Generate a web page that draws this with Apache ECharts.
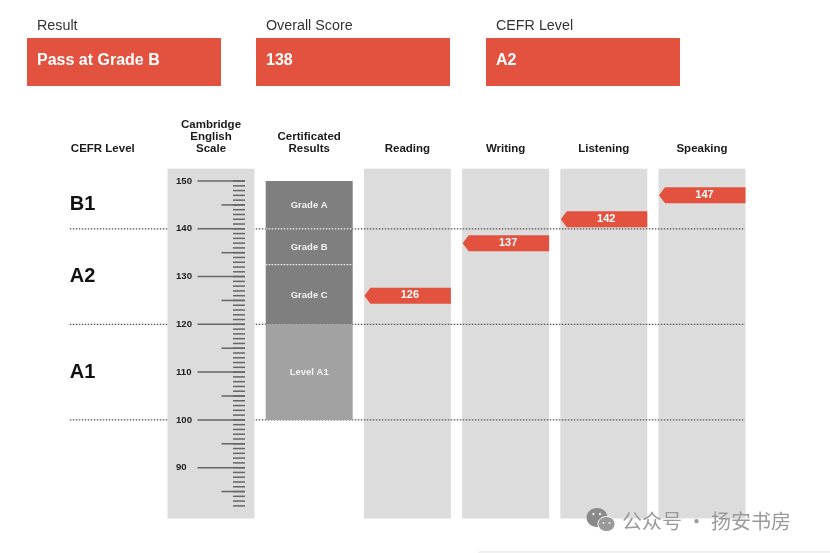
<!DOCTYPE html>
<html>
<head>
<meta charset="utf-8">
<style>html,body{margin:0;padding:0;background:#fff}#chart{width:830px;height:553px}</style>
<script src="https://cdn.jsdelivr.net/npm/echarts@6/dist/echarts.min.js"></script>
</head>
<body>
<div id="chart"></div>
<script>
// Summary boxes
const summaryLabels = ['Result', 'Overall Score', 'CEFR Level'];
const summaryValues = ['Pass at Grade B', '138', 'A2'];

// Column headings
const columns = ['CEFR Level', 'Cambridge\nEnglish\nScale', 'Certificated\nResults', 'Reading', 'Writing', 'Listening', 'Speaking'];

// Cambridge English Scale
const scaleLabels = [90, 100, 110, 120, 130, 140, 150];
const majorTicks = [90, 100, 110, 120, 130, 140, 150];
const midTicks = [85, 95, 105, 115, 125, 135, 145];
const minorTicks = [82, 83, 84, 85, 86, 87, 88, 89, 90, 91, 92, 93, 94, 95, 96, 97, 98, 99, 100,
  101, 102, 103, 104, 105, 106, 107, 108, 109, 110, 111, 112, 113, 114, 115, 116, 117, 118, 119, 120,
  121, 122, 123, 124, 125, 126, 127, 128, 129, 130, 131, 132, 133, 134, 135, 136, 137, 138, 139, 140,
  141, 142, 143, 144, 145, 146, 147, 148, 149, 150];
const panelLow = 79.35;
const panelHigh = 152.55;

// CEFR levels and their boundaries
const cefrNames = ['B1', 'A2', 'A1'];
const cefrCentres = [145, 130, 110];
const cefrBoundaries = [140, 120, 100];

// Certificated results
const gradeNames = ['Grade A', 'Grade B', 'Grade C'];
const gradeHigh = [150, 140, 132.5];
const gradeLow = [140, 132.5, 120];
const levelNames = ['Level A1'];
const levelHigh = [120];
const levelLow = [100];
const gradeDividers = [140, 132.5];

// Candidate scores per skill
const skillColumns = [3, 4, 5, 6];
const skillScores = [126, 137, 142, 147];

const RED = '#E2523E';
const PANEL = '#DCDCDC';
const FONT = '"Liberation Sans", Arial, sans-serif';
const PANEL_W = 87;
const SCALE_COL = 1;
const RESULT_COL = 2;

function panelSeries(name, cols, z) {
  return {
    type: 'custom', name, z, silent: true,
    data: cols.map(c => [c]),
    encode: { x: 0 },
    renderItem(params, api) {
      const x = api.coord([api.value(0), panelHigh])[0] - PANEL_W / 2;
      const top = api.coord([api.value(0), panelHigh])[1];
      const bottom = api.coord([api.value(0), panelLow])[1];
      return { type: 'rect', shape: { x, y: top, width: PANEL_W, height: bottom - top }, style: { fill: PANEL } };
    }
  };
}

function bandSeries(name, names, high, low, fill, z) {
  return {
    type: 'custom', name, z, silent: true,
    data: names.map((n, i) => [RESULT_COL, high[i], low[i], n]),
    encode: { x: 0, y: [1, 2] },
    renderItem(params, api) {
      const a = api.coord([RESULT_COL, api.value(1)]);
      const b = api.coord([RESULT_COL, api.value(2)]);
      return {
        type: 'group',
        children: [
          { type: 'rect', shape: { x: a[0] - PANEL_W / 2, y: a[1], width: PANEL_W, height: b[1] - a[1] }, style: { fill } },
          { type: 'text', style: { text: names[params.dataIndex], x: a[0], y: (a[1] + b[1]) / 2 + 0.5, fill: '#f2f2f2', font: 'bold 9.5px ' + FONT, align: 'center', verticalAlign: 'middle' } }
        ]
      };
    }
  };
}

function tickSeries(name, values, leftX, width, z) {
  return {
    type: 'custom', name, z, silent: true,
    data: values.map(v => [SCALE_COL, v]),
    encode: { x: 0, y: 1 },
    renderItem(params, api) {
      const p = api.coord([SCALE_COL, api.value(1)]);
      const x = p[0] + leftX;
      return { type: 'line', shape: { x1: x, y1: p[1], x2: x + width, y2: p[1] }, style: { stroke: '#666', lineWidth: 1.5 } };
    }
  };
}

const series = [
  panelSeries('Skill panels', skillColumns, 1),
  // Dotted CEFR boundaries run behind the scale panel and the grade blocks
  {
    type: 'custom', name: 'CEFR boundaries', z: 2, silent: true,
    data: cefrBoundaries.map(v => [0, v]),
    encode: { x: 0, y: 1 },
    renderItem(params, api) {
      const a = api.coord([0, api.value(1)]);
      const b = api.coord([columns.length - 1, api.value(1)]);
      return { type: 'line', shape: { x1: a[0] - 43, y1: a[1], x2: b[0] + 43, y2: a[1] }, style: { stroke: '#555', lineWidth: 1.3, lineDash: [1.5, 1.5] } };
    }
  },
  panelSeries('Scale panel', [SCALE_COL], 3),
  bandSeries('Grades', gradeNames, gradeHigh, gradeLow, '#7F7F7F', 3),
  bandSeries('Level A1', levelNames, levelHigh, levelLow, '#A2A2A2', 3),
  {
    type: 'custom', name: 'Grade dividers', z: 4, silent: true,
    data: gradeDividers.map(v => [RESULT_COL, v]),
    encode: { x: 0, y: 1 },
    renderItem(params, api) {
      const p = api.coord([RESULT_COL, api.value(1)]);
      return { type: 'line', shape: { x1: p[0] - PANEL_W / 2, y1: p[1], x2: p[0] + PANEL_W / 2, y2: p[1] }, style: { stroke: '#e6e6e6', lineWidth: 1.3, lineDash: [1.5, 1.5] } };
    }
  },
  tickSeries('Minor ticks', minorTicks, 22, 12, 4),
  tickSeries('Mid ticks', midTicks, 10.5, 23.5, 4),
  tickSeries('Major ticks', majorTicks, -13.5, 47.5, 4),
  // Score flags pointing at the scale
  {
    type: 'custom', name: 'Scores', z: 5, silent: true,
    data: skillColumns.map((c, i) => [c, skillScores[i]]),
    encode: { x: 0, y: 1 },
    renderItem(params, api) {
      const p = api.coord([api.value(0), api.value(1)]);
      const l = p[0] - PANEL_W / 2 + 0.5;
      const r = p[0] + PANEL_W / 2;
      const h = 8;
      return {
        type: 'group',
        children: [
          { type: 'polygon', shape: { points: [[l, p[1]], [l + 6, p[1] - h], [r, p[1] - h], [r, p[1] + h], [l + 6, p[1] + h]] }, style: { fill: RED } },
          { type: 'text', style: { text: String(api.value(1)), x: p[0] + 2.5, y: p[1] - 0.5, fill: '#fff', font: 'bold 11px ' + FONT, align: 'center', verticalAlign: 'middle' } }
        ]
      };
    }
  },
  // Level names in the first column
  {
    type: 'custom', name: 'CEFR names', z: 5, silent: true,
    data: cefrNames.map((n, i) => [0, cefrCentres[i]]),
    encode: { x: 0, y: 1 },
    renderItem(params, api) {
      const p = api.coord([0, api.value(1)]);
      return { type: 'text', style: { text: cefrNames[params.dataIndex], x: p[0] - 43, y: p[1], fill: '#111', font: 'bold 20px ' + FONT, align: 'left', verticalAlign: 'middle' } };
    }
  }
];

// Header boxes along the top of the report
const boxLefts = [27, 256, 486];
const graphics = [];
summaryLabels.forEach((label, i) => {
  const left = boxLefts[i];
  graphics.push(
    { type: 'text', style: { text: label, x: left + 10, y: 26, fill: '#333', font: '14.3px ' + FONT, verticalAlign: 'middle' } },
    { type: 'rect', shape: { x: left, y: 38, width: 194, height: 48 }, style: { fill: RED } },
    { type: 'text', style: { text: summaryValues[i], x: left + 10, y: 61, fill: '#fff', font: 'bold 16px ' + FONT, verticalAlign: 'middle' } }
  );
});

// Account mark in the lower right corner
graphics.push(
  { type: 'ellipse', z: 100, shape: { cx: 597, cy: 517.5, rx: 10.5, ry: 9.5 }, style: { fill: '#8a8a8a' } },
  { type: 'ellipse', z: 101, shape: { cx: 606.5, cy: 524, rx: 8.5, ry: 7.5 }, style: { fill: '#999', stroke: '#fff', lineWidth: 1 } },
  { type: 'circle', z: 102, shape: { cx: 593.5, cy: 514, r: 1.2 }, style: { fill: '#eee' } },
  { type: 'circle', z: 102, shape: { cx: 600, cy: 514, r: 1.2 }, style: { fill: '#eee' } },
  { type: 'circle', z: 102, shape: { cx: 603.5, cy: 523, r: 1 }, style: { fill: '#eee' } },
  { type: 'circle', z: 102, shape: { cx: 609.5, cy: 523, r: 1 }, style: { fill: '#eee' } },
  { type: 'text', z: 100, style: { text: '公众号 · 扬安书房', x: 622, y: 521, fill: '#9a9a9a', font: '20px "Noto Sans CJK SC", sans-serif', verticalAlign: 'middle' } },
  { type: 'line', z: 100, shape: { x1: 478, y1: 552, x2: 830, y2: 552 }, style: { stroke: '#e2e2e2', lineWidth: 1 } }
);

const chart = echarts.init(document.getElementById('chart'), null, { renderer: 'canvas' });
chart.setOption({
  animation: false,
  backgroundColor: '#fff',
  textStyle: { fontFamily: FONT },
  grid: { left: 63.7, top: 166.7, width: 687.4, height: 353.5 },
  xAxis: {
    type: 'category',
    position: 'top',
    data: columns,
    axisLine: { show: false },
    axisTick: { show: false },
    splitLine: { show: false },
    axisLabel: {
      interval: 0,
      margin: 12,
      color: '#1a1a1a',
      fontFamily: FONT,
      fontSize: 11.5,
      fontWeight: 'bold',
      lineHeight: 11.8,
      verticalAlign: 'bottom',
      formatter: v => v === columns[0] ? '{first|' + v + '}' : v,
      rich: { first: { fontFamily: FONT, fontSize: 11.5, fontWeight: 'bold', color: '#1a1a1a', padding: [0, 20, 0, 0] } }
    }
  },
  yAxis: {
    type: 'value',
    min: 79,
    max: 153,
    z: 10,
    axisLine: { show: false },
    axisTick: { show: false },
    splitLine: { show: false },
    axisLabel: {
      customValues: scaleLabels,
      align: 'left',
      margin: -112.3,
      color: '#222',
      fontFamily: FONT,
      fontSize: 9.6,
      fontWeight: 'bold'
    }
  },
  series,
  graphic: { elements: graphics }
});
</script>
</body>
</html>
